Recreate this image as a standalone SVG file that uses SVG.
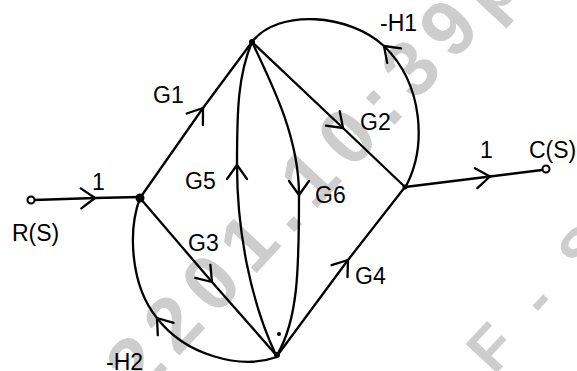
<svg xmlns="http://www.w3.org/2000/svg" width="577" height="371" viewBox="0 0 577 371">
<defs>
<style>
.e{fill:none;stroke:#000;stroke-width:2.3;stroke-linecap:round;stroke-linejoin:round}
.lbl{font-family:"Liberation Sans",Arial,sans-serif;font-size:23px;fill:#000}
.wm{font-family:"Liberation Sans",Arial,sans-serif;font-weight:bold;fill:#cdcdcd}
</style>
<marker id="ch" viewBox="-16 -12 18 24" refX="0" refY="0" markerWidth="18" markerHeight="24" markerUnits="userSpaceOnUse" orient="auto">
<path d="M-14,-10 L0,0 L-14,10" fill="none" stroke="#000" stroke-width="2.3" stroke-linecap="round" stroke-linejoin="round"/>
</marker>
</defs>
<rect width="577" height="371" fill="#fff"/>
<g id="watermark">
<text class="wm" font-size="78" letter-spacing="12" transform="translate(140,398) rotate(-47)">2201.10:39pm</text>
<text class="wm" font-size="62" letter-spacing="10" transform="translate(494,376) rotate(-47)">F - S</text>
</g>
<g id="connectors">
<path id="e-in" class="e" d="M34,200 L95,198 L140,197" marker-mid="url(#ch)"/>
<path id="e-g1" class="e" d="M140,198 L203,108 L252,42" marker-mid="url(#ch)"/>
<path id="e-g3" class="e" d="M140,198 L212,282 L277,356" marker-mid="url(#ch)"/>
<path id="e-g2" class="e" d="M252,42 L343,128 L405,187" marker-mid="url(#ch)"/>
<path id="e-g4" class="e" d="M277,356 L348,260 L405,187" marker-mid="url(#ch)"/>
<path id="e-g5" class="e" d="M276,355 C250,300 237,230 237,165 C237,110 238,75 252,42" marker-mid="url(#ch)"/>
<path id="e-g6" class="e" d="M252,42 C275,90 299,140 299,195 C299,270 298,320 277,355" marker-mid="url(#ch)"/>
<path id="e-h1" class="e" d="M405,188 C427,148 424,85 384,46 C350,14 278,8 252,42" marker-mid="url(#ch)"/>
<path id="e-h2" class="e" d="M277,357 C240,370 185,355 157,318 C130,285 128,230 140,198" marker-mid="url(#ch)"/>
<path id="e-out" class="e" d="M405,187 L490,176.5 L542,170" marker-mid="url(#ch)"/>
</g>
<g id="node-R">
<circle cx="31" cy="200" r="3.5" fill="#fff" stroke="#000" stroke-width="2"/>
<text class="lbl" x="12" y="241">R(S)</text>
</g>
<g id="node-A"><circle cx="140" cy="198" r="4.5" fill="#000"/></g>
<g id="node-B"><circle cx="252" cy="42" r="3" fill="#000"/></g>
<g id="node-C"><circle cx="277" cy="355" r="3" fill="#000"/><circle cx="279" cy="334" r="2" fill="#000"/></g>
<g id="node-D"><circle cx="405" cy="187" r="2.5" fill="#000"/></g>
<g id="node-Out">
<circle cx="546" cy="169" r="3.5" fill="#fff" stroke="#000" stroke-width="2"/>
<text class="lbl" x="529" y="158" font-size="21">C(S)</text>
</g>
<g id="labels">
<text class="lbl" x="92" y="190">1</text>
<text class="lbl" x="480" y="158">1</text>
<text class="lbl" x="153" y="103">G1</text>
<text class="lbl" x="360" y="130">G2</text>
<text class="lbl" x="188" y="251">G3</text>
<text class="lbl" x="355" y="284">G4</text>
<text class="lbl" x="185" y="189">G5</text>
<text class="lbl" x="315" y="203">G6</text>
<text class="lbl" x="380" y="31">-H1</text>
<text class="lbl" x="106" y="370">-H2</text>
</g>
</svg>
